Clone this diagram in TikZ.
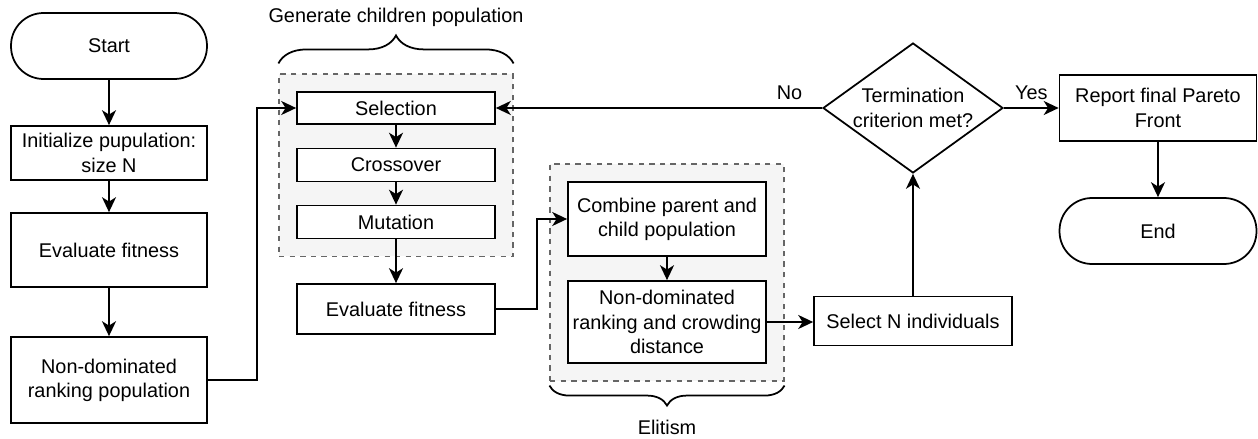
\documentclass[tikz,border=0pt]{standalone}
\usepackage{fontspec}
\setmainfont{Liberation Sans}
\usetikzlibrary{arrows.meta,shapes,positioning,fit,backgrounds,decorations.pathreplacing}

\begin{document}
\begin{tikzpicture}[x=0.02cm,y=-0.02cm,
	font=\fontsize{11.3}{13.8}\selectfont,line width=1pt,
	box/.style={draw,fill=white,align=center,inner sep=2pt},
	term/.style={box,rounded corners=0.65cm,minimum width=3.94cm,minimum height=1.32cm},
	decision/.style={draw,diamond,aspect=1.38,inner sep=0pt,minimum width=3.6cm,minimum height=2.6cm,align=center},
	group/.style={draw=black!60,dashed,line width=0.8pt,fill=black!4,inner sep=0.34cm},
	flow/.style={->,>={Stealth[length=8.5pt,width=8pt,inset=2.5pt]}}]
	\useasboundingbox (0,0) rectangle (1258,439);

	% left column
	\node[term,minimum width=3.92cm] (start) at (109,46) {Start};
	\node[box,minimum width=3.92cm,minimum height=1.08cm] (init) at (109,153) {Initialize pupulation:\\size N};
	\node[box,minimum width=3.92cm,minimum height=1.48cm] (evalA) at (109,250) {Evaluate fitness};
	\node[box,minimum width=3.92cm,minimum height=1.72cm] (rankA) at (109,380) {Non-dominated\\ranking population};

	% children
	\node[box,minimum width=3.96cm,minimum height=0.64cm] (sel) at (396,108) {Selection};
	\node[box,minimum width=3.96cm,minimum height=0.66cm] (cross) at (396,165) {Crossover};
	\node[box,minimum width=3.96cm,minimum height=0.66cm] (mut) at (396,222) {Mutation};
	\node[box,minimum width=3.96cm,minimum height=1cm] (evalB) at (396,309) {Evaluate fitness};

	% elitism
	\node[box,minimum width=3.96cm,minimum height=1.48cm] (comb) at (667,219) {Combine parent and\\child population};
	\node[box,minimum width=3.96cm,minimum height=1.64cm] (rankB) at (667,322) {Non-dominated\\ranking and crowding\\distance};
	\node[box,minimum width=3.96cm,minimum height=0.98cm] (pick) at (913,321) {Select N individuals};

	\node[decision] (stop) at (913,108) {Termination\\criterion met?};
	\node[box,minimum width=3.94cm,minimum height=1.32cm] (report) at (1158,108) {Report final Pareto\\Front};
	\node[term] (end) at (1158,231) {End};

	\begin{scope}[on background layer]
		\node[group,fit=(sel)(mut)] (gen) {};
		\node[group,fit=(comb)(rankB)] (elite) {};
	\end{scope}

	\draw [decoration={brace,raise=0.2cm,amplitude=0.56cm},decorate] (gen.north west) -- node[above=0.8cm]{Generate children population} (gen.north east);
	\draw [decoration={brace,mirror,raise=0.08cm,amplitude=0.4cm},decorate] (elite.south west) -- node[below=0.64cm]{Elitism} (elite.south east);

	\draw[flow] (start) -- (init);
	\draw[flow] (init) -- (evalA);
	\draw[flow] (evalA) -- (rankA);
	\draw[flow] (rankA.east) -- ++(49,0) |- (sel.west);
	\draw[flow] (sel) -- (cross);
	\draw[flow] (cross) -- (mut);
	\draw[flow] (mut) -- (evalB);
	\draw[flow] (evalB.east) -- ++(41,0) |- (comb.west);
	\draw[flow] (comb) -- (rankB);
	\draw[flow] (rankB.east) -- (rankB.east -| pick.west);
	\draw[flow] (pick) -- (stop);
	\draw[flow] (stop.west) -- node[pos=0.1,above=1pt]{No} (sel.east);
	\draw[flow] (stop.east) -- node[above=1pt]{Yes} (report.west);
	\draw[flow] (report) -- (end);
\end{tikzpicture}
\end{document}
